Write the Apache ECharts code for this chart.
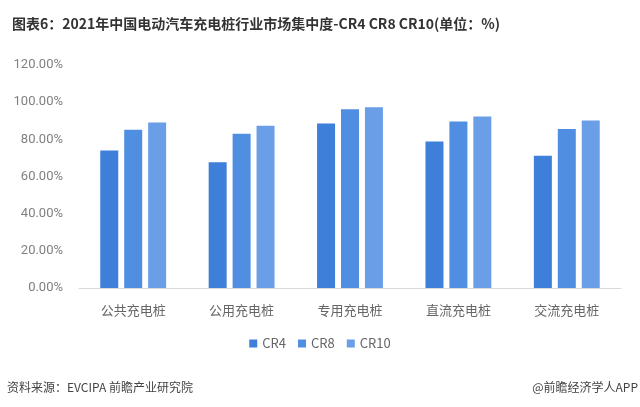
<!DOCTYPE html>
<html><head><meta charset="utf-8">
<script src="https://cdn.jsdelivr.net/npm/echarts@6/dist/echarts.min.js"></script>
<style>html,body{margin:0;padding:0;background:#fff;}#c{width:640px;height:407px;}</style>
</head><body><div id="c"></div>
<script>
const categories = ['公共充电桩','公用充电桩','专用充电桩','直流充电桩','交流充电桩'];
const cr4 = [74.0, 67.7, 88.5, 78.9, 71.1];
const cr8 = [85.1, 83.0, 96.2, 89.6, 85.6];
const cr10 = [89.1, 87.3, 97.3, 92.3, 90.2];
const seriesNames = ['CR4','CR8','CR10'];
const colors = ['#3d7fd9','#4f8ee0','#6a9ee6'];
const FONT = '"Noto Sans CJK SC", "Noto Sans", sans-serif';
const chart = echarts.init(document.getElementById('c'));
const dataSets = [cr4, cr8, cr10];
chart.setOption({
  animation: false,
  textStyle: {fontFamily: FONT},
  title: {
    text: '图表6：2021年中国电动汽车充电桩行业市场集中度-CR4 CR8 CR10(单位：%)',
    left: 7, top: 12,
    textStyle: {fontSize: 14, fontWeight: 'bold', color: '#333', fontFamily: FONT}
  },
  graphic: [
    {type: 'text', left: 7, top: 381, style: {text: '资料来源：EVCIPA 前瞻产业研究院', fontSize: 12, fill: '#444', fontFamily: FONT}},
    {type: 'text', right: 2, top: 381, style: {text: '@前瞻经济学人APP', fontSize: 12, fill: '#444', fontFamily: FONT}}
  ],
  legend: {
    data: seriesNames, bottom: 52, left: 'center',
    itemWidth: 8, itemHeight: 8, itemGap: 12, icon: 'rect',
    textStyle: {fontSize: 13, color: '#666', fontFamily: FONT}
  },
  grid: {left: 79, right: 19, top: 65, bottom: 119},
  xAxis: {
    type: 'category', data: categories,
    axisLine: {lineStyle: {color: '#d9d9d9'}},
    axisTick: {show: false},
    axisLabel: {fontSize: 13, color: '#666', margin: 16, fontFamily: FONT}
  },
  yAxis: {
    type: 'value', min: 0, max: 120, interval: 20,
    axisLine: {show: false}, axisTick: {show: false},
    splitLine: {show: false},
    axisLabel: {fontSize: 13, color: '#808080', margin: 16, formatter: v => v.toFixed(2) + '%', fontFamily: 'Roboto, sans-serif'}
  },
  series: seriesNames.map((n, i) => ({
    name: n, type: 'bar', data: dataSets[i], barWidth: 18, barGap: '33%',
    itemStyle: {color: colors[i]}
  }))
});
</script></body></html>
